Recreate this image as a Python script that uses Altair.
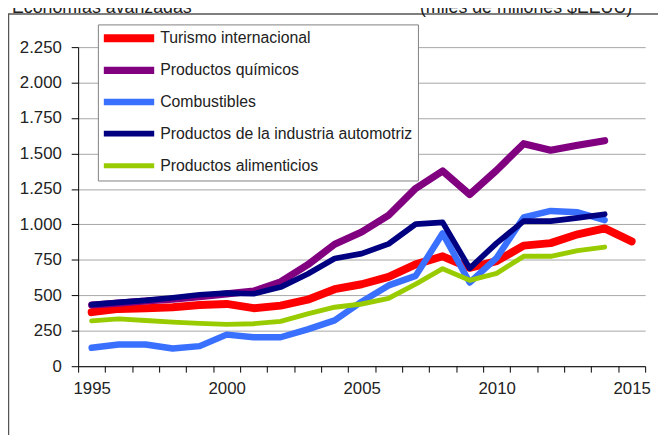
import altair as alt
import pandas as pd

YEARS = list(range(1995, 2016))

SERIES = [
    "Turismo internacional",
    "Productos químicos",
    "Combustibles",
    "Productos de la industria automotriz",
    "Productos alimenticios",
]
COLORS = ["#FF0000", "#800080", "#3A70FF", "#000080", "#99CC00"]
WIDTHS = [8, 5, 5, 5.5, 5]

turismo = [381, 404, 409, 416, 432, 439, 409, 427, 469, 543, 578, 630, 718, 775, 694, 741, 850, 868, 930, 972, 880]
quimicos = [432, 445, 460, 472, 490, 510, 530, 595, 715, 860, 947, 1065, 1254, 1377, 1211, 1382, 1569, 1523, 1558, 1590]
combustibles = [130, 153, 153, 125, 142, 223, 204, 204, 260, 323, 455, 570, 637, 937, 590, 764, 1049, 1095, 1086, 1030]
automotriz = [434, 450, 464, 483, 504, 515, 511, 558, 650, 760, 794, 863, 1002, 1014, 690, 868, 1023, 1023, 1046, 1072]
alimenticios = [320, 334, 323, 311, 302, 295, 300, 316, 369, 416, 439, 479, 579, 688, 606, 655, 775, 775, 815, 840]

VALUES = [turismo, quimicos, combustibles, automotriz, alimenticios]

Y_TICKS = [0, 250, 500, 750, 1000, 1250, 1500, 1750, 2000, 2250]
X_LABELS = [1995, 2000, 2005, 2010, 2015]

TITLE_LEFT = "Economías avanzadas"
TITLE_RIGHT = "(miles de millones $EEUU)"

FONT = "Liberation Sans, Arial, sans-serif"

rows = []
for name, vals in zip(SERIES, VALUES):
    for y, v in zip(YEARS, vals):
        rows.append({"serie": name, "year": y, "value": v})
df = pd.DataFrame(rows)

x_values = [1994.5 + k for k in range(len(YEARS) + 1)] + X_LABELS

x_axis = alt.Axis(
    values=x_values,
    labelExpr="datum.value % 5 == 0 ? '' + datum.value : ''",
    tickOpacity={"condition": {"test": "datum.value % 1 == 0", "value": 0}, "value": 1},
    tickSize=6,
    tickColor="black",
    domainColor="black",
    labelFontSize=17,
    labelFont=FONT,
    labelColor="#222222",
    labelPadding=9,
    labelOverlap=False,
    labelFlush=False,
    grid=False,
    title=None,
)

y_axis = alt.Axis(
    values=Y_TICKS,
    labelExpr="replace(format(datum.value, ','), ',', '.')",
    tickSize=7,
    tickColor="black",
    domainColor="black",
    labelFontSize=17,
    labelFont=FONT,
    labelColor="#222222",
    labelPadding=10,
    grid=True,
    gridColor="#A6A6A6",
    gridWidth=1,
    title=None,
)

lines = alt.Chart(df).mark_line(strokeCap="round", strokeJoin="round").encode(
    x=alt.X("year:Q", scale=alt.Scale(domain=[1994.5, 2015.5], nice=False, zero=False), axis=x_axis),
    y=alt.Y("value:Q", scale=alt.Scale(domain=[0, 2250], nice=False), axis=y_axis),
    color=alt.Color(
        "serie:N",
        scale=alt.Scale(domain=SERIES, range=COLORS),
        legend=alt.Legend(
            title=None,
            orient="none",
            legendX=20,
            legendY=-23,
            direction="vertical",
            strokeColor="#808080",
            fillColor="white",
            padding=5,
            symbolType="M-1.6,0H8.6",
            symbolSize=100,
            symbolStrokeWidth=6,
            labelFontSize=16,
            labelFont=FONT,
            labelColor="#222222",
            labelOffset=40,
            gridAlign="all",
            rowPadding=1.5,
            labelLimit=400,
        ),
    ),
    strokeWidth=alt.StrokeWidth("serie:N", scale=alt.Scale(domain=SERIES, range=WIDTHS), legend=None),
    detail="serie:N",
)

one = pd.DataFrame({"a": [0]})
frame = alt.Chart(one).mark_rect(fill=None, stroke="#555555", strokeWidth=1.5).encode(
    x=alt.value(-70.5), x2=alt.value(620), y=alt.value(-33.5), y2=alt.value(420)
)
t_left = alt.Chart(one).mark_text(align="left", baseline="alphabetic", fontSize=18, font=FONT, color="#222222").encode(
    x=alt.value(-67), y=alt.value(-35), text=alt.value(TITLE_LEFT)
)
t_right = alt.Chart(one).mark_text(align="left", baseline="alphabetic", fontSize=18, font=FONT, color="#222222").encode(
    x=alt.value(346), y=alt.value(-35), text=alt.value(TITLE_RIGHT)
)

chart = alt.layer(frame, t_left, t_right, lines).properties(
    width=574,
    height=323,
    autosize=alt.AutoSizeParams(type="none"),
    padding={"left": 71, "top": 37, "right": 13, "bottom": 67},
).configure_view(stroke=None)

chart.save("out.html", embed_options={"renderer": "svg", "actions": False})
